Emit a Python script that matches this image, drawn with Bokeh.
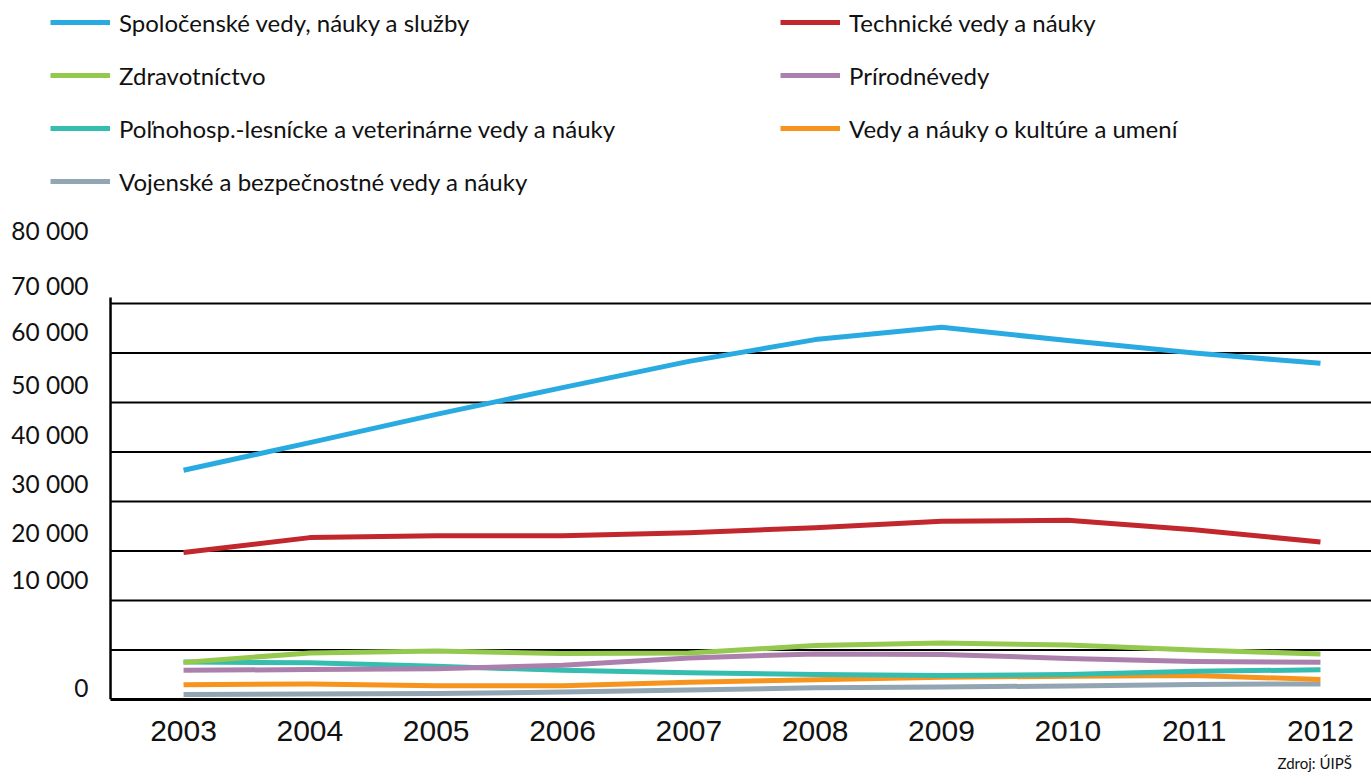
from bokeh.plotting import figure
from bokeh.models import FixedTicker, Legend, LegendItem, Range1d, Title
from bokeh.core.properties import value
from bokeh.embed import file_html
from bokeh.resources import INLINE

# ---------------- data ----------------
years = [2003, 2004, 2005, 2006, 2007, 2008, 2009, 2010, 2011, 2012]

spolocenske = [46300, 51900, 57600, 63000, 68300, 72700, 75200, 72500, 70000, 67900]
technicke = [29700, 32700, 33100, 33100, 33700, 34700, 36000, 36200, 34300, 31800]
zdravotnictvo = [7500, 9400, 9800, 9300, 9400, 10900, 11400, 11000, 10000, 9200]
prirodne = [5900, 6050, 6200, 6900, 8400, 9200, 9100, 8300, 7700, 7500]
polnohosp = [7600, 7400, 6700, 5900, 5400, 5050, 4850, 5050, 5700, 6000]
kultura = [3000, 3150, 2800, 2800, 3500, 4000, 4500, 4700, 4850, 4050]
vojenske = [1000, 1100, 1200, 1500, 1900, 2350, 2500, 2750, 3050, 3150]

names = {
    "spol": "Spoločenské vedy, náuky a služby",
    "tech": "Technické vedy a náuky",
    "zdrav": "Zdravotníctvo",
    "prir": "Prírodnévedy",
    "poln": "Poľnohosp.-lesnícke a veterinárne vedy a náuky",
    "kult": "Vedy a náuky o kultúre a umení",
    "voj": "Vojenské a bezpečnostné vedy a náuky",
}

y_tick_labels = ["0", "10 000", "20 000", "30 000", "40 000",
                 "50 000", "60 000", "70 000", "80 000"]
grid_values = [10000, 20000, 30000, 40000, 50000, 60000, 70000, 80000]
source_text = "Zdroj: ÚIPŠ"

# ---------------- layout / style constants ----------------
y_label_anchor = [2400, 24240, 33740, 43640, 53540, 63640, 74340, 83640, 94750]
axis_line_top = 81200
x_start = years[0] - 1.449      # left edge of the frame (page left)
x_axis_pos = years[0] - 0.578   # where the vertical axis line sits
x_label_pos = years[0] - 0.752  # right edge of the y tick labels
x_end = years[-1] + 0.404
y_end = 141200
colors = {
    "spol": "#29ABE2", "tech": "#C1272D", "zdrav": "#94C84F", "prir": "#AC80AC",
    "poln": "#35BDAF", "kult": "#F7941D", "voj": "#91A5B3",
}
LEGEND_FONT = "Lato"
TICK_FONT = "Lato"
X_FONT = "Liberation Sans"

p = figure(frame_width=1371, frame_height=699,
           x_range=Range1d(x_start, x_end),
           y_range=Range1d(0, y_end),
           output_backend="svg", toolbar_location=None,
           y_axis_location=None, title_location=None,
           min_border_left=0, min_border_right=0,
           min_border_top=0, min_border_bottom=0)
p.outline_line_color = None
p.background_fill_color = "white"
p.border_fill_color = "white"
p.xgrid.visible = False
p.ygrid.visible = False

# horizontal grid lines starting at the vertical axis line
p.segment(x0=[x_axis_pos] * len(grid_values), y0=grid_values,
          x1=[x_end] * len(grid_values), y1=grid_values,
          line_color="black", line_width=2)
# vertical axis line
p.segment(x0=[x_axis_pos], y0=[0], x1=[x_axis_pos], y1=[axis_line_top],
          line_color="black", line_width=2.5)

# x axis
xa = p.xaxis[0]
xa.bounds = (x_axis_pos, x_end)
xa.ticker = FixedTicker(ticks=years)
xa.axis_line_color = "black"
xa.axis_line_width = 3
xa.major_tick_line_color = None
xa.minor_tick_line_color = None
xa.major_label_text_font = X_FONT
xa.major_label_text_font_size = "30px"
xa.major_label_text_color = "#111111"
xa.major_label_standoff = 15

# y tick labels (placed as in the source chart)
p.text(x=[x_label_pos] * len(y_tick_labels), y=y_label_anchor, text=y_tick_labels,
       text_align="right", text_baseline="middle",
       text_font=value(TICK_FONT), text_font_size="24.5px", text_color="#111111")

# lines
data = {"spol": spolocenske, "tech": technicke, "zdrav": zdravotnictvo,
        "prir": prirodne, "poln": polnohosp, "kult": kultura, "voj": vojenske}
renderers = {}
for key in ["voj", "kult", "poln", "prir", "zdrav", "tech", "spol"]:
    renderers[key] = p.line(years, data[key], line_color=colors[key],
                            line_width=5, line_join="round")


def make_legend(keys, loc):
    return Legend(items=[LegendItem(label=names[k], renderers=[renderers[k]]) for k in keys],
                  location=loc, orientation="vertical",
                  glyph_width=60, glyph_height=30, label_height=30,
                  label_standoff=9, spacing=23, padding=0, margin=0,
                  border_line_color=None, background_fill_alpha=0,
                  label_text_font=LEGEND_FONT, label_text_font_size="24px",
                  label_text_color="#111111")


p.add_layout(make_legend(["spol", "zdrav", "poln", "voj"], (50, 503)), "center")
p.add_layout(make_legend(["tech", "prir", "kult"], (780, 556)), "center")

p.add_layout(Title(text=source_text, align="left", text_font="Lato",
                   text_font_size="15px", text_font_style="normal",
                   text_color="#111111", standoff=16, offset=1277,
                   vertical_align="bottom"), "below")

open("out.html", "w").write(file_html(p, INLINE))
